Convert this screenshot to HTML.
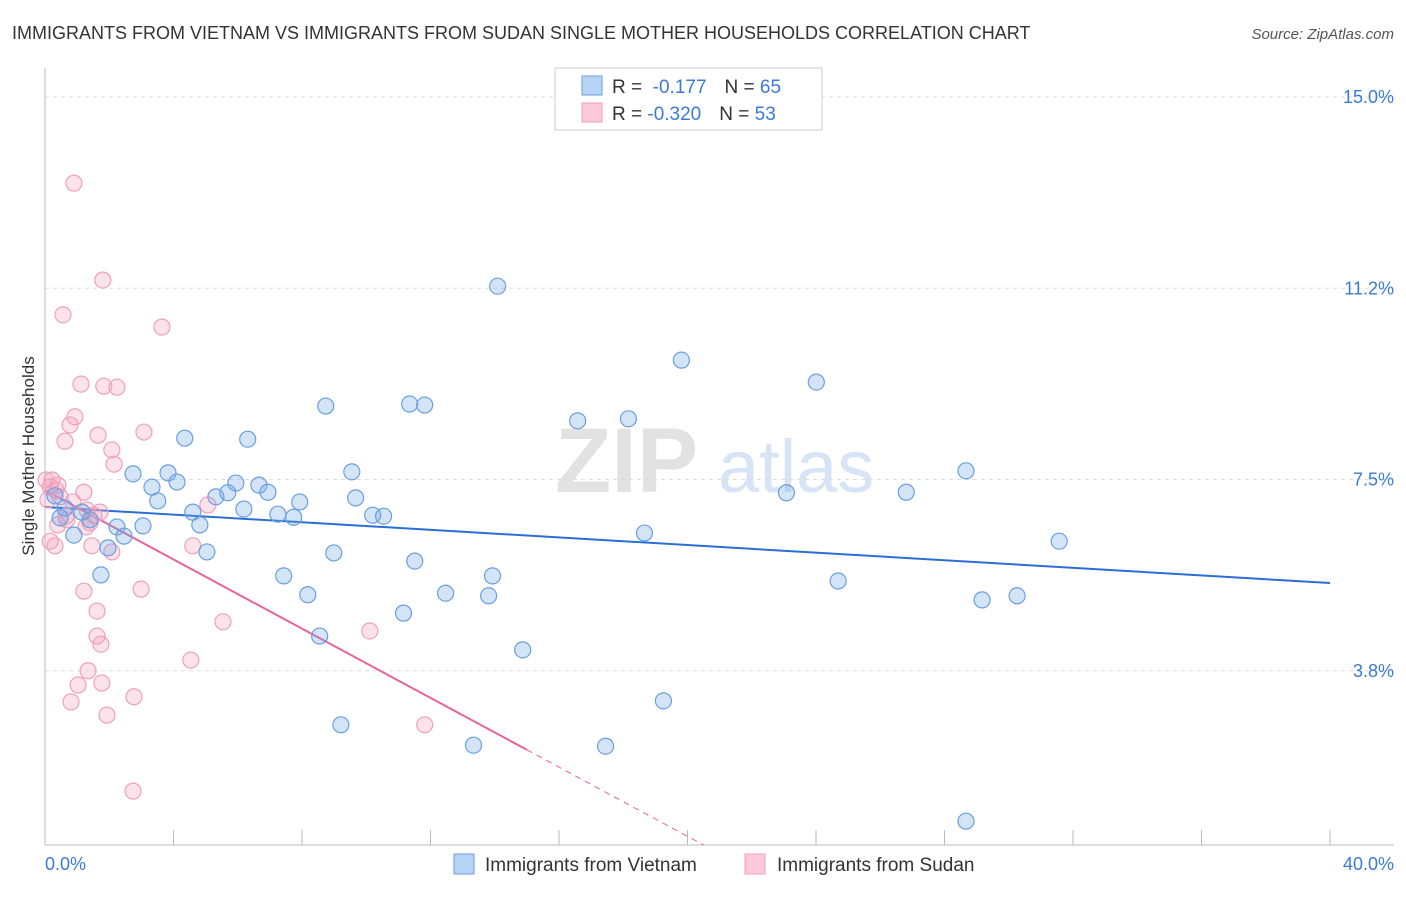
<!DOCTYPE html>
<html><head><meta charset="utf-8">
<style>
body{margin:0;background:#fff;font-family:"Liberation Sans",sans-serif;}
svg text{font-family:"Liberation Sans",sans-serif;}
</style></head>
<body>
<svg id="chart" width="1406" height="892" viewBox="0 0 1406 892" xmlns="http://www.w3.org/2000/svg">
<text x="12" y="39" font-size="18" fill="#333">IMMIGRANTS FROM VIETNAM VS IMMIGRANTS FROM SUDAN SINGLE MOTHER HOUSEHOLDS CORRELATION CHART</text>
<text x="1394" y="39" font-size="15" fill="#555" text-anchor="end" font-style="italic">Source: ZipAtlas.com</text>
<g>
<text x="555" y="492" font-size="92" fill="#e2e2e2" font-family="Liberation Serif" font-weight="bold">ZIP</text>
<text x="718" y="492" font-size="74" fill="#d6e4f5">atlas</text>
</g>
<g id="grid"></g>
<g id="axes"></g>
<text transform="translate(34,456) rotate(-90)" font-size="17" fill="#333" text-anchor="middle">Single Mother Households</text>
<g id="lines"></g>
<g id="points"></g>
<g>
<rect x="555" y="68" width="267" height="62" fill="#fff" stroke="#ccc"/>
<rect x="582" y="76" width="20" height="19" fill="#b8d4f5" stroke="#6a9fe0"/>
<rect x="582" y="103" width="20" height="19" fill="#fbc9d8" stroke="#f0a0bb"/>
<text x="612" y="93" font-size="19" fill="#333">R = <tspan fill="#3a7bd5">&#160;-0.177</tspan><tspan dx="18" fill="#333">N = </tspan><tspan fill="#3a7bd5">65</tspan></text>
<text x="612" y="120" font-size="19" fill="#333">R = <tspan fill="#3a7bd5">-0.320</tspan><tspan dx="18" fill="#333">N = </tspan><tspan fill="#3a7bd5">53</tspan></text>
</g>
<g>
<rect x="454" y="854" width="20" height="20" fill="#b8d4f5" stroke="#6a9fe0"/>
<text x="485" y="871" font-size="19" fill="#333">Immigrants from Vietnam</text>
<rect x="745" y="854" width="20" height="20" fill="#fbc9d8" stroke="#f0a0bb"/>
<text x="777" y="871" font-size="19" fill="#333">Immigrants from Sudan</text>
</g>
</svg>
<script>
const xTicks=[0,5,10,15,20,25,30,35,40];
const xTickLabels=["0.0%","40.0%"];
const yTicks=[15.0,11.25,7.5,3.75];
const yTickLabels=["15.0%","11.2%","7.5%","3.8%"];
const vietnamX=[14.09,19.81,24.01,8.74,11.35,11.82,16.58,18.16,4.35,6.31,28.67,9.55,2.74,3.83,4.11,3.33,5.94,6.66,5.69,5.32,6.94,3.51,7.93,9.67,26.81,23.08,4.60,6.19,7.25,7.74,10.2,10.54,4.82,3.05,2.24,2.46,0.90,18.66,31.57,1.96,5.04,8.99,11.51,1.74,7.43,13.93,24.69,8.18,12.47,13.81,29.17,30.26,11.16,8.55,14.87,19.25,9.21,13.34,17.45,28.67,0.47,0.62,0.31,1.15,1.40];
const vietnamY=[11.29,9.84,9.41,8.94,8.98,8.96,8.65,8.69,8.31,8.29,7.67,7.65,7.61,7.63,7.45,7.35,7.43,7.39,7.24,7.16,7.25,7.08,7.06,7.14,7.25,7.24,6.86,6.92,6.82,6.76,6.80,6.78,6.61,6.59,6.57,6.39,6.41,6.45,6.29,6.16,6.08,6.06,5.90,5.63,5.61,5.61,5.51,5.24,5.27,5.22,5.14,5.22,4.88,4.43,4.16,3.16,2.69,2.29,2.27,0.80,6.75,6.94,7.18,6.86,6.71];
const sudanX=[0.90,1.80,0.56,3.64,1.12,1.83,2.24,0.93,0.78,3.08,0.62,1.65,2.08,2.15,0.16,0.34,1.21,0.47,5.07,0.87,1.31,1.52,0.68,1.40,1.28,4.60,1.46,2.08,0.31,0.16,1.21,2.99,1.62,5.54,1.62,1.74,10.11,4.54,1.34,1.03,1.77,0.81,2.77,1.93,11.82,2.74,0.03,0.22,0.40,0.09,1.71,0.65,0.40];
const sudanY=[13.31,11.41,10.73,10.49,9.37,9.33,9.31,8.73,8.57,8.43,8.25,8.37,8.08,7.80,7.35,7.29,7.25,7.16,7.00,7.06,6.90,6.80,6.71,6.65,6.57,6.20,6.20,6.08,6.20,6.29,5.31,5.35,4.92,4.71,4.43,4.27,4.53,3.96,3.75,3.47,3.51,3.14,3.24,2.88,2.69,1.39,7.49,7.49,7.39,7.10,6.86,6.78,6.61];
const vietnamTrend=[0,6.96,40,5.47];
const sudanTrend=[0,7.29,15.0,2.20];
const sudanDashEnd=20.5;

const NS="http://www.w3.org/2000/svg";
const X0=45,X1=1330,YB=862,PPU=51;
function sx(v){return X0+(X1-X0)*v/40;}
function sy(v){return YB-v*PPU;}
function mk(tag,attrs,parent){const e=document.createElementNS(NS,tag);for(const k in attrs)e.setAttribute(k,attrs[k]);parent.appendChild(e);return e;}
const grid=document.getElementById('grid'),axes=document.getElementById('axes'),lines=document.getElementById('lines'),pts=document.getElementById('points');
yTicks.forEach((t,i)=>{
 const l=mk('line',{x1:X0,x2:1394,y1:sy(t),y2:sy(t),stroke:'#ddd','stroke-dasharray':'4,4'},grid);
 
 
 const tx=mk('text',{x:1394,y:sy(t)+6,'font-size':18,fill:'#3a7bd5','text-anchor':'end'},axes);
 tx.textContent=yTickLabels[i];
 
 
});
mk('line',{x1:X0,x2:X0,y1:68,y2:845,stroke:'#bbb'},axes);
mk('line',{x1:X0,x2:1394,y1:845,y2:845,stroke:'#bbb'},axes);
for(let v=0;v<=40;v+=4){const t=mk('line',{x1:sx(v),x2:sx(v),y1:830,y2:845,stroke:'#bbb'},axes);
 
 }
const xl0=mk('text',{x:45,y:870,'font-size':18,fill:'#3a7bd5'},axes);xl0.textContent=xTickLabels[0];


const xl1=mk('text',{x:1394,y:870,'font-size':18,fill:'#3a7bd5','text-anchor':'end'},axes);xl1.textContent=xTickLabels[1];



function drawPts(xs,ys,fill,stroke,name){
 xs.forEach((x,i)=>{const c=mk('circle',{cx:sx(x),cy:sy(ys[i]),r:8,fill:fill,stroke:stroke,'stroke-width':1.2},pts);
 
 });
}
drawPts(sudanX,sudanY,'rgba(245,160,190,0.3)','#f0a0bb','sudan-point');
drawPts(vietnamX,vietnamY,'rgba(110,165,230,0.3)','#6a9fe0','vietnam-point');

const bl=mk('line',{x1:sx(vietnamTrend[0]),y1:sy(vietnamTrend[1]),x2:sx(vietnamTrend[2]),y2:sy(vietnamTrend[3]),stroke:'#2a6fd6','stroke-width':2},lines);


const pl=mk('line',{x1:sx(sudanTrend[0]),y1:sy(sudanTrend[1]),x2:sx(sudanTrend[2]),y2:sy(sudanTrend[3]),stroke:'#e8629a','stroke-width':2},lines);


const slope=(sudanTrend[3]-sudanTrend[1])/(sudanTrend[2]-sudanTrend[0]);
const pd=mk('line',{x1:sx(sudanTrend[2]),y1:sy(sudanTrend[3]),x2:sx(sudanDashEnd),y2:sy(sudanTrend[1]+slope*sudanDashEnd),stroke:'#e8629a','stroke-width':1,'stroke-dasharray':'6,5'},lines);


</script>
</body></html>
